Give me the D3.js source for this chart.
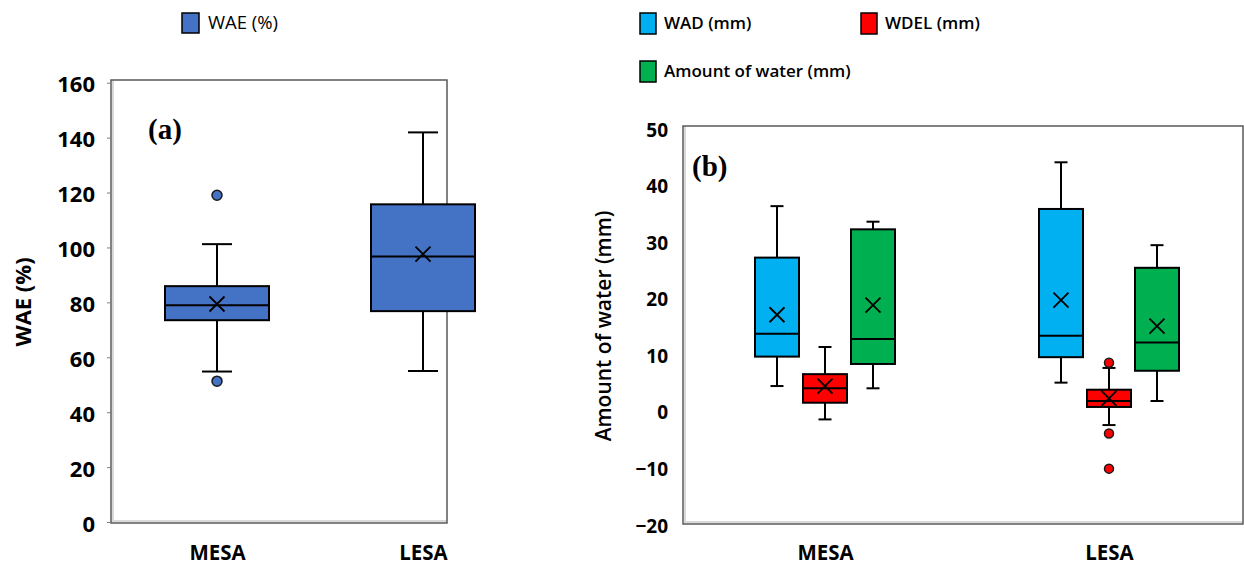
<!DOCTYPE html>
<html>
<head>
<meta charset="utf-8">
<title>WAE and water amounts</title>
<script src="https://cdn.jsdelivr.net/npm/d3@7/dist/d3.min.js"></script>
<style>
body { margin: 0; background: #fff; font-family: 'Open Sans', sans-serif; }
svg { display: block; }
.tick text { font-family: 'Open Sans', sans-serif; font-weight: bold; fill: #000; }
.frame { fill: none; stroke: #595959; stroke-width: 1.5; }
.shade { fill: none; stroke: #d9d9d9; stroke-width: 2; }
.box { stroke: #000; stroke-width: 2; }
.whisk { stroke: #000; stroke-width: 2; fill: none; }
.mean { stroke: #000; stroke-width: 1.8; }
.letter { font-family: 'Liberation Serif', serif; font-weight: bold; font-size: 29px; }
</style>
</head>
<body>
<script>
// ---- panel (a): WAE (%) ----
var catsA = ["MESA", "LESA"];
var waeMin  = [54.8, 55.0];
var waeQ1   = [73.5, 76.8];
var waeMed  = [78.9, 96.7];
var waeQ3   = [85.9, 115.7];
var waeMax  = [101.2, 141.9];
var waeMean = [79.4, 97.6];
var waeOut  = [[119.0, 51.3], []];
var ticksA  = [0, 20, 40, 60, 80, 100, 120, 140, 160];

// ---- panel (b): water amounts (mm) ----
var catsB   = ["MESA", "LESA"];
var series  = ["WAD (mm)", "WDEL (mm)", "Amount of water (mm)"];
var colors  = ["#00b0f0", "#ff0000", "#00b050"];
// per series, per category [MESA, LESA]
var bMin  = [[4.3, 4.9],   [-1.6, -2.6], [3.9, 1.65]];
var bQ1   = [[9.5, 9.4],   [1.35, 0.6],  [8.2, 7.0]];
var bMed  = [[13.55, 13.2],[3.9, 1.65],  [12.6, 12.0]];
var bQ3   = [[27.0, 35.6], [6.4, 3.65],  [32.0, 25.2]];
var bMax  = [[36.1, 43.85],[11.2, 7.5],  [33.35, 29.2]];
var bMean = [[16.9, 19.5], [4.3, 2.1],   [18.6, 14.9]];
var bOut  = [[[], []], [[], [8.4, -4.1, -10.3]], [[], []]];
var ticksB = [-20, -10, 0, 10, 20, 30, 40, 50];

var width = 1244, height = 567;

var svg = d3.select("body").append("svg")
    .attr("width", width)
    .attr("height", height);

function drawFrame(x0, y0, x1, y1) {
    svg.append("path").attr("class", "shade")
        .attr("d", "M" + (x0 + 2) + "," + y0 + "V" + (y1 - 2) + "H" + x1);
    svg.append("rect").attr("class", "frame")
        .attr("x", x0).attr("y", y0)
        .attr("width", x1 - x0).attr("height", y1 - y0);
}

// draws one box plot at center cx
function drawBox(g, y, cx, w, cap, stats, fill, outR) {
    g.append("line").attr("class", "whisk")
        .attr("x1", cx).attr("x2", cx)
        .attr("y1", y(stats.max)).attr("y2", y(stats.q3));
    g.append("line").attr("class", "whisk")
        .attr("x1", cx).attr("x2", cx)
        .attr("y1", y(stats.q1)).attr("y2", y(stats.min));
    g.append("line").attr("class", "whisk")
        .attr("x1", cx - cap / 2).attr("x2", cx + cap / 2)
        .attr("y1", y(stats.max)).attr("y2", y(stats.max));
    g.append("line").attr("class", "whisk")
        .attr("x1", cx - cap / 2).attr("x2", cx + cap / 2)
        .attr("y1", y(stats.min)).attr("y2", y(stats.min));
    g.append("rect").attr("class", "box")
        .attr("x", cx - w / 2).attr("width", w)
        .attr("y", y(stats.q3)).attr("height", y(stats.q1) - y(stats.q3))
        .attr("fill", fill);
    g.append("line").attr("class", "whisk")
        .attr("x1", cx - w / 2).attr("x2", cx + w / 2)
        .attr("y1", y(stats.med)).attr("y2", y(stats.med));
    var my = y(stats.mean), s = 7.5;
    g.append("path").attr("class", "mean")
        .attr("d", "M" + (cx - s) + "," + (my - s) + "L" + (cx + s) + "," + (my + s) +
                   "M" + (cx - s) + "," + (my + s) + "L" + (cx + s) + "," + (my - s));
    g.selectAll(null).data(stats.out).enter().append("circle")
        .attr("cx", cx).attr("cy", function (d) { return y(d); })
        .attr("r", outR)
        .attr("fill", fill).attr("stroke", "#1a1a1a").attr("stroke-width", 1.5);
}

// ================= panel (a) =================
var yA = d3.scaleLinear().domain([0, 160]).range([522, 82.7]);
var xA = d3.scalePoint().domain(catsA).range([217, 423]);

drawFrame(111, 80, 447, 523);

var axA = svg.append("g")
    .attr("transform", "translate(111,0)")
    .call(d3.axisLeft(yA).tickValues(ticksA).tickSize(4).tickPadding(12));
axA.select(".domain").remove();
axA.selectAll(".tick line").attr("stroke", "#7f7f7f");
axA.selectAll(".tick text").style("font-size", "22px").attr("dy", "0.42em");

var xaxA = svg.append("g")
    .attr("transform", "translate(0,553)")
    .call(d3.axisBottom(xA).tickSize(0).tickPadding(0));
xaxA.select(".domain").remove();
xaxA.selectAll(".tick text").style("font-size", "20.5px").attr("dy", "0.35em").attr("y", 0);

var gA = svg.append("g");
catsA.forEach(function (c, i) {
    drawBox(gA, yA, xA(c), 104, 30, {
        min: waeMin[i], q1: waeQ1[i], med: waeMed[i], q3: waeQ3[i],
        max: waeMax[i], mean: waeMean[i], out: waeOut[i]
    }, "#4472c4", 5);
});

svg.append("text").attr("class", "letter")
    .attr("x", 148).attr("y", 139).text("(a)");

svg.append("text")
    .attr("transform", "translate(31,302) rotate(-90)")
    .attr("text-anchor", "middle")
    .style("font-size", "22px").style("font-weight", "bold")
    .text("WAE (%)");

// legend (a)
svg.append("rect").attr("x", 182).attr("y", 13).attr("width", 17).attr("height", 20)
    .attr("fill", "#4472c4").attr("stroke", "#000").attr("stroke-width", 1.5);
svg.append("text").attr("x", 208).attr("y", 23).attr("dy", "0.35em")
    .style("font-size", "18.5px").text("WAE (%)");

// ================= panel (b) =================
var yB = d3.scaleLinear().domain([-20, 50]).range([523.5, 127.5]);
var xB = d3.scalePoint().domain(catsB).range([825, 1109]);
var xS = d3.scalePoint().domain(series).range([-48, 48]);

drawFrame(683, 126, 1243, 524);

var axB = svg.append("g")
    .attr("transform", "translate(683,0)")
    .call(d3.axisLeft(yB).tickValues(ticksB).tickSize(0).tickPadding(15));
axB.select(".domain").remove();
axB.selectAll(".tick text").style("font-size", "19px").attr("dy", "0.45em");

var xaxB = svg.append("g")
    .attr("transform", "translate(0,553)")
    .call(d3.axisBottom(xB).tickSize(0).tickPadding(0));
xaxB.select(".domain").remove();
xaxB.selectAll(".tick text").style("font-size", "20.5px").attr("dy", "0.35em").attr("y", 0);

var gB = svg.append("g");
series.forEach(function (s, k) {
    catsB.forEach(function (c, i) {
        drawBox(gB, yB, xB(c) + xS(s), 44, 13, {
            min: bMin[k][i], q1: bQ1[k][i], med: bMed[k][i], q3: bQ3[k][i],
            max: bMax[k][i], mean: bMean[k][i], out: bOut[k][i]
        }, colors[k], 4.5);
    });
});

svg.append("text").attr("class", "letter")
    .attr("x", 692).attr("y", 176).text("(b)");

svg.append("text")
    .attr("transform", "translate(611,326) rotate(-90)")
    .attr("text-anchor", "middle")
    .style("font-size", "21px").style("font-weight", "600")
    .text("Amount of water (mm)");

// legend (b)
var legPos = [[640, 23], [861, 23], [640, 71]];
series.forEach(function (s, k) {
    svg.append("rect").attr("x", legPos[k][0]).attr("y", legPos[k][1] - 10)
        .attr("width", 16).attr("height", 21)
        .attr("fill", colors[k]).attr("stroke", "#000").attr("stroke-width", 1.5);
    svg.append("text").attr("x", legPos[k][0] + 24).attr("y", legPos[k][1])
        .attr("dy", "0.35em")
        .style("font-size", "17px").style("font-weight", "600")
        .text(s);
});
</script>
</body>
</html>
